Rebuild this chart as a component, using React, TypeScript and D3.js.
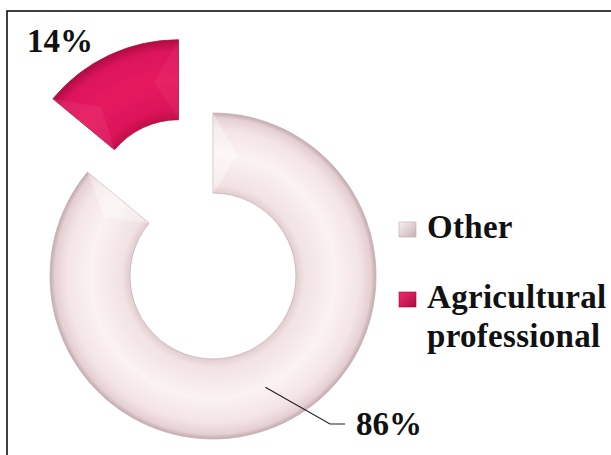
import React from "react";
import * as d3 from "d3";

const categories = ["Other", "Agricultural professional"];
const values = [86, 14];
const labels = ["86%", "14%"];
const legendLines = [["Other"], ["Agricultural", "professional"]];

const W = 611;
const H = 455;
const cx = 213;
const cy = 276;
const rOuter = 163;
const rInner = 83;
const explode = [0, 81];

export default function App() {
  const pie = d3.pie<number>().sort(null).startAngle(0).endAngle(2 * Math.PI);
  const arcs = pie(values);
  const arc = d3.arc<d3.PieArcDatum<number>>().innerRadius(rInner).outerRadius(rOuter);

  const offsets = arcs.map((a, i) => {
    const mid = (a.startAngle + a.endAngle) / 2;
    return [Math.sin(mid) * explode[i], -Math.cos(mid) * explode[i]];
  });

  const pt = (ang: number, r: number) => [Math.sin(ang) * r, -Math.cos(ang) * r];

  const facet = (a: d3.PieArcDatum<number>, atStart: boolean) => {
    const ang = atStart ? a.startAngle : a.endAngle;
    const dir = atStart ? 1 : -1;
    const o = pt(ang, rOuter);
    const inn = pt(ang, rInner);
    const ap = pt(ang + dir * 0.2, (rOuter + rInner) / 2);
    return `M${o[0]},${o[1]}L${ap[0]},${ap[1]}L${inn[0]},${inn[1]}Z`;
  };

  const c0 = arc.centroid(arcs[0]);
  const lineEnd = [330 - cx, 424 - cy];

  const fills = ["url(#gOther)", "url(#gAgri)"];
  const markerFills = ["url(#mOther)", "url(#mAgri)"];
  const strokes = ["#c9b1b5", "#b00b43"];
  const fracIn = rInner / rOuter;

  return (
    <svg
      width={W}
      height={H}
      style={{ position: "absolute", left: 0, top: 0, background: "#fff" }}
      fontFamily="'Liberation Serif', 'Times New Roman', serif"
    >
      <defs>
        <radialGradient id="gOther" gradientUnits="userSpaceOnUse" cx={0} cy={0} r={rOuter}>
          <stop offset={fracIn} stopColor="#e2cdd0" />
          <stop offset={fracIn + 0.05} stopColor="#f2e2e4" />
          <stop offset={0.75} stopColor="#fbf2f3" />
          <stop offset={0.9} stopColor="#f4e4e6" />
          <stop offset={0.97} stopColor="#e5d0d3" />
          <stop offset={1} stopColor="#c2aaae" />
        </radialGradient>
        <radialGradient id="gAgri" gradientUnits="userSpaceOnUse" cx={0} cy={0} r={rOuter}>
          <stop offset={fracIn} stopColor="#c20e4b" />
          <stop offset={fracIn + 0.07} stopColor="#dc1459" />
          <stop offset={0.75} stopColor="#e6195f" />
          <stop offset={0.93} stopColor="#dc155a" />
          <stop offset={1} stopColor="#b00b43" />
        </radialGradient>
        <linearGradient id="mOther" x1="0" y1="0" x2="1" y2="1">
          <stop offset="0" stopColor="#faf1f2" />
          <stop offset="1" stopColor="#c9b0b5" />
        </linearGradient>
        <linearGradient id="mAgri" x1="0" y1="0" x2="1" y2="1">
          <stop offset="0" stopColor="#ef2b6c" />
          <stop offset="1" stopColor="#b00a42" />
        </linearGradient>
      </defs>

      <path d={`M7,${H}V11H${W}`} fill="none" stroke="#000" strokeWidth={1.5} />

      {arcs.map((a, i) => (
        <g key={categories[i]} transform={`translate(${cx + offsets[i][0]},${cy + offsets[i][1]})`}>
          <path d={arc(a) || ""} fill={fills[i]} stroke={strokes[i]} strokeWidth={0.8} />
          <path d={facet(a, true)} fill="#fff" opacity={i === 0 ? 0.35 : 0.06} />
          <path d={facet(a, false)} fill="#fff" opacity={i === 0 ? 0.3 : 0.04} />
        </g>
      ))}

      <g transform={`translate(${cx},${cy})`}>
        <polyline
          points={`${c0[0]},${c0[1]} ${lineEnd[0]},${lineEnd[1]} ${lineEnd[0] + 15},${lineEnd[1]}`}
          fill="none"
          stroke="#222"
          strokeWidth={1.2}
        />
      </g>

      <text x={356} y={435} fontSize={33} fontWeight="bold" fill="#111">{labels[0]}</text>
      <text x={27} y={52} fontSize={33} fontWeight="bold" fill="#111">{labels[1]}</text>

      {categories.map((c, i) => {
        const y0 = i === 0 ? 238 : 308;
        return (
          <g key={c}>
            <rect x={399} y={y0 - 16} width={17} height={15} fill={markerFills[i]} stroke={i === 0 ? "#bfa5aa" : "#9a0937"} strokeWidth={0.6} />
            {legendLines[i].map((t, j) => (
              <text key={t} x={427} y={y0 + j * 39} fontSize={33} fontWeight="bold" fill="#111" letterSpacing={0.3}>{t}</text>
            ))}
          </g>
        );
      })}
    </svg>
  );
}
